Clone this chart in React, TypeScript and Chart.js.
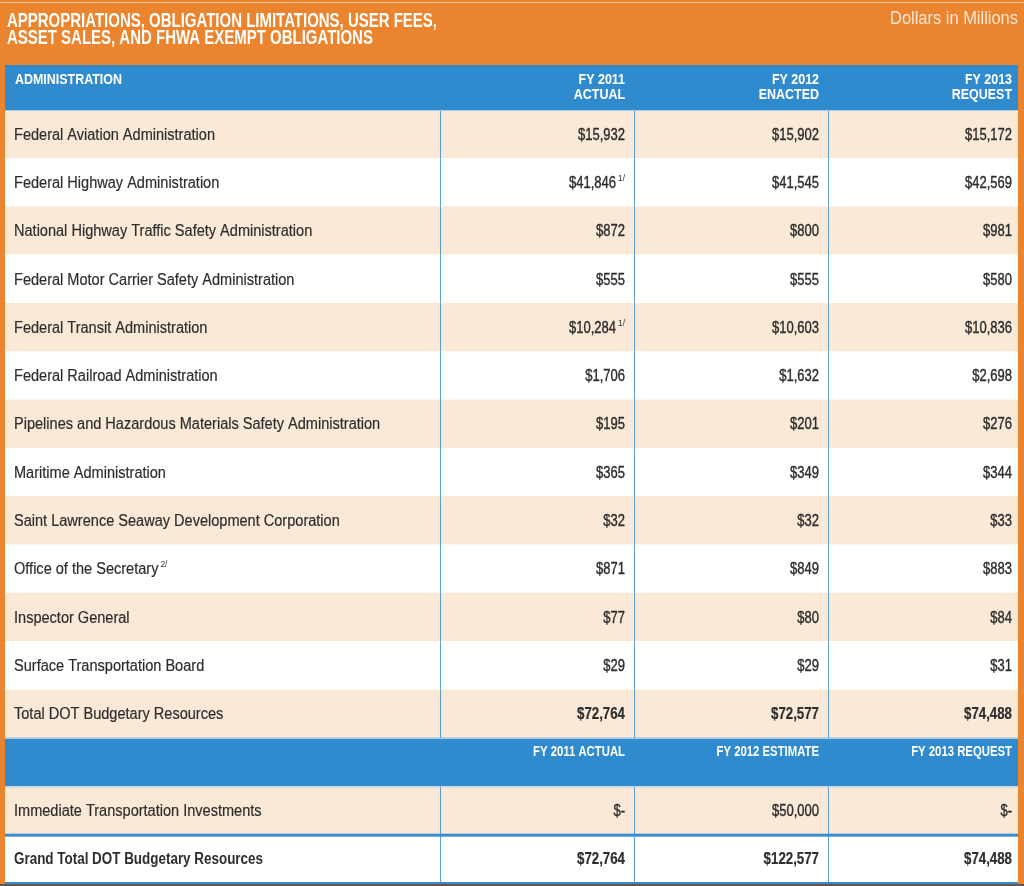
import React, { useEffect, useRef } from "react";
import { Chart, registerables } from "chart.js";

Chart.register(...registerables);

// ---------- data ----------
const TITLE_LINES = [
  "APPROPRIATIONS, OBLIGATION LIMITATIONS, USER FEES,",
  "ASSET SALES, AND FHWA EXEMPT OBLIGATIONS",
];
const UNIT_LABEL = "Dollars in Millions";
const FIRST_HEADER = "ADMINISTRATION";
const COLUMN_HEADERS_TOP = ["FY 2011", "FY 2012", "FY 2013"];
const COLUMN_HEADERS_BOTTOM = ["ACTUAL", "ENACTED", "REQUEST"];
const COLUMN_HEADERS_2 = ["FY 2011 ACTUAL", "FY 2012 ESTIMATE", "FY 2013 REQUEST"];

const ADMINISTRATIONS = [
  "Federal Aviation Administration",
  "Federal Highway Administration",
  "National Highway Traffic Safety Administration",
  "Federal Motor Carrier Safety Administration",
  "Federal Transit Administration",
  "Federal Railroad Administration",
  "Pipelines and Hazardous Materials Safety Administration",
  "Maritime Administration",
  "Saint Lawrence Seaway Development Corporation",
  "Office of the Secretary",
  "Inspector General",
  "Surface Transportation Board",
  "Total DOT Budgetary Resources",
];
const LABEL_FOOTNOTES = ["", "", "", "", "", "", "", "", "", "2/", "", "", ""];
const FY2011 = [15932, 41846, 872, 555, 10284, 1706, 195, 365, 32, 871, 77, 29, 72764];
const FY2011_FOOTNOTES = ["", "1/", "", "", "1/", "", "", "", "", "", "", "", ""];
const FY2012 = [15902, 41545, 800, 555, 10603, 1632, 201, 349, 32, 849, 80, 29, 72577];
const FY2013 = [15172, 42569, 981, 580, 10836, 2698, 276, 344, 33, 883, 84, 31, 74488];

const EXTRA_ROWS = ["Immediate Transportation Investments", "Grand Total DOT Budgetary Resources"];
const EXTRA_FY2011 = [0, 72764];
const EXTRA_FY2012 = [50000, 122577];
const EXTRA_FY2013 = [0, 74488];

// ---------- layout / style constants ----------
const TABLE_SPAN = 1013;
const COLUMN_EDGES = [0, 435, 629, 823, TABLE_SPAN];
const VALUE_INSET = [9, 9, 6];
const ORANGE = "#EA842E";
const BLUE = "#308BCE";
const CREAM = "#FBE9D7";
const WHITE = "#FFFFFF";
const TEXT = "#2E2E2E";
const DIVIDER = "#5A9DD3";
const FONT = "'Liberation Sans', Arial, sans-serif";

const HEADER2_KEY = "__header2";
const ROW_KEYS = [...ADMINISTRATIONS, HEADER2_KEY, ...EXTRA_ROWS];
const ROW_COLORS = [
  ...ADMINISTRATIONS.map((_, i) => (i % 2 === 0 ? CREAM : WHITE)),
  BLUE,
  CREAM,
  WHITE,
];

type Style = { font: string; color: string; ref: string; target: number; stroke: number };
const STYLES: Record<string, Style> = {
  title: { font: `bold 21px ${FONT}`, color: "#FFFFFF", ref: TITLE_LINES[0], target: 430, stroke: 0 },
  unit: { font: `18px ${FONT}`, color: "#FDE6D2", ref: UNIT_LABEL, target: 128, stroke: 0 },
  head: { font: `bold 14px ${FONT}`, color: "#FFFFFF", ref: FIRST_HEADER, target: 107, stroke: 0 },
  head2: { font: `bold 14px ${FONT}`, color: "#FFFFFF", ref: COLUMN_HEADERS_2[0], target: 92, stroke: 0 },
  label: { font: `16px ${FONT}`, color: TEXT, ref: ADMINISTRATIONS[0], target: 201, stroke: 0.2 },
  labelBold: { font: `bold 16px ${FONT}`, color: TEXT, ref: EXTRA_ROWS[1], target: 249, stroke: 0 },
  value: { font: `16px ${FONT}`, color: TEXT, ref: "$15,932", target: 47, stroke: 0.4 },
  valueBold: { font: `bold 16px ${FONT}`, color: TEXT, ref: "$72,764", target: 48, stroke: 0.2 },
  note: { font: `9px ${FONT}`, color: TEXT, ref: "1/", target: 7, stroke: 0 },
};

const fmt = (v: number) => (v === 0 ? "$-" : "$" + v.toLocaleString("en-US"));

const tablePlugin = {
  id: "tableText",
  beforeDraw(chart: any) {
    const { ctx, width, height, chartArea } = chart;
    ctx.save();
    ctx.fillStyle = ORANGE;
    ctx.fillRect(0, 0, width, height);
    ctx.fillStyle = "#F6C8A0";
    ctx.fillRect(0, 2, width, 1);
    ctx.fillStyle = BLUE;
    ctx.fillRect(chartArea.left, 65, chartArea.right - chartArea.left, chartArea.top - 65);
    ctx.restore();
  },
  afterDatasetsDraw(chart: any) {
    const { ctx, chartArea } = chart;
    const xs = chart.scales.x;
    const ys = chart.scales.y;
    const sx: Record<string, number> = {};
    for (const k of Object.keys(STYLES)) {
      ctx.font = STYLES[k].font;
      sx[k] = STYLES[k].target / ctx.measureText(STYLES[k].ref).width;
    }
    const widthOf = (text: string, k: string) => {
      ctx.font = STYLES[k].font;
      return ctx.measureText(text).width * sx[k];
    };
    const draw = (text: string, x: number, y: number, align: CanvasTextAlign, k: string) => {
      const st = STYLES[k];
      ctx.save();
      ctx.font = st.font;
      ctx.fillStyle = st.color;
      ctx.textBaseline = "middle";
      ctx.textAlign = align;
      ctx.translate(x, y);
      ctx.scale(sx[k], 1);
      ctx.fillText(text, 0, 0);
      if (st.stroke > 0) {
        ctx.strokeStyle = st.color;
        ctx.lineWidth = st.stroke;
        ctx.lineJoin = "round";
        ctx.strokeText(text, 0, 0);
      }
      ctx.restore();
    };

    const rowH = ys.getPixelForValue(1) - ys.getPixelForValue(0);
    const colX = COLUMN_EDGES.map((e) => xs.getPixelForValue(e));
    const left = chartArea.left;
    const right = chartArea.right;
    const valueRight = (c: number) => colX[c + 2] - VALUE_INSET[c];

    // title block
    draw(TITLE_LINES[0], left + 2, 21, "left", "title");
    draw(TITLE_LINES[1], left + 2, 38, "left", "title");
    draw(UNIT_LABEL, right, 19, "right", "unit");

    // first header row
    draw(FIRST_HEADER, left + 10, 80, "left", "head");
    for (let c = 0; c < 3; c++) {
      const rx = valueRight(c);
      draw(COLUMN_HEADERS_TOP[c], rx, 80, "right", "head");
      draw(COLUMN_HEADERS_BOTTOM[c], rx, 95, "right", "head");
    }

    const h2Index = ROW_KEYS.indexOf(HEADER2_KEY);

    // column dividers
    ctx.save();
    ctx.fillStyle = DIVIDER;
    ROW_KEYS.forEach((_, i) => {
      if (i === h2Index) return;
      const cy = ys.getPixelForValue(i);
      for (let c = 1; c <= 3; c++) {
        ctx.fillRect(Math.round(colX[c]), cy - rowH / 2, 1, rowH);
      }
    });
    // horizontal rules
    ctx.fillStyle = "#A8CDEB";
    ctx.fillRect(left, chartArea.top, right - left, 1);
    ctx.fillRect(left, ys.getPixelForValue(h2Index) - rowH / 2, right - left, 1);
    ctx.fillRect(left, ys.getPixelForValue(h2Index) + rowH / 2, right - left, 1);
    ctx.fillStyle = "#3A8BCB";
    ctx.fillRect(left, ys.getPixelForValue(h2Index + 1) + rowH / 2 - 1, right - left, 3);
    ctx.fillRect(left, chartArea.bottom - 1, right - left, 2);
    ctx.fillStyle = "#5A5A5A";
    ctx.fillRect(0, chartArea.bottom + 1, chart.width, 3);
    ctx.restore();

    const drawValue = (v: number, note: string, c: number, y: number, k: string) => {
      let rx = valueRight(c);
      if (note) {
        draw(note, rx, y - 5, "right", "note");
        rx -= widthOf(note, "note") + 2;
      }
      draw(fmt(v), rx, y, "right", k);
    };

    // main rows
    ADMINISTRATIONS.forEach((name, i) => {
      const y = ys.getPixelForValue(i) + 1;
      draw(name, left + 9, y, "left", "label");
      if (LABEL_FOOTNOTES[i]) {
        draw(LABEL_FOOTNOTES[i], left + 9 + widthOf(name, "label") + 2, y - 5, "left", "note");
      }
      const k = i === ADMINISTRATIONS.length - 1 ? "valueBold" : "value";
      drawValue(FY2011[i], FY2011_FOOTNOTES[i], 0, y, k);
      drawValue(FY2012[i], "", 1, y, k);
      drawValue(FY2013[i], "", 2, y, k);
    });

    // second header row
    const hy = ys.getPixelForValue(h2Index) - 10;
    for (let c = 0; c < 3; c++) {
      draw(COLUMN_HEADERS_2[c], valueRight(c), hy, "right", "head2");
    }

    // extra rows
    EXTRA_ROWS.forEach((name, j) => {
      const i = h2Index + 1 + j;
      const y = ys.getPixelForValue(i) + 1;
      const bold = j === EXTRA_ROWS.length - 1;
      draw(name, left + 9, y, "left", bold ? "labelBold" : "label");
      const k = bold ? "valueBold" : "value";
      drawValue(EXTRA_FY2011[j], "", 0, y, k);
      drawValue(EXTRA_FY2012[j], "", 1, y, k);
      drawValue(EXTRA_FY2013[j], "", 2, y, k);
    });
  },
};

export default function App() {
  const ref = useRef<HTMLCanvasElement>(null);
  useEffect(() => {
    document.body.style.margin = "0";
    const canvas = ref.current!;
    const chart = new Chart(canvas, {
      type: "bar",
      data: {
        labels: ROW_KEYS,
        datasets: [
          {
            label: "rows",
            data: ROW_KEYS.map(() => [0, TABLE_SPAN]) as any,
            backgroundColor: ROW_COLORS,
            borderWidth: 0,
            barPercentage: 1,
            categoryPercentage: 1,
          },
        ],
      },
      options: {
        indexAxis: "y",
        responsive: false,
        animation: false,
        events: [],
        layout: { padding: { top: 110, left: 5, right: 6, bottom: 3 } },
        scales: {
          x: { type: "linear", min: 0, max: TABLE_SPAN, display: false },
          y: { type: "category", display: false, offset: true },
        },
        plugins: {
          legend: { display: false },
          tooltip: { enabled: false },
          title: { display: false },
        },
      },
      plugins: [tablePlugin],
    });
    return () => chart.destroy();
  }, []);
  return (
    <canvas
      ref={ref}
      width={1024}
      height={886}
      style={{ display: "block", width: 1024, height: 886 }}
    />
  );
}
